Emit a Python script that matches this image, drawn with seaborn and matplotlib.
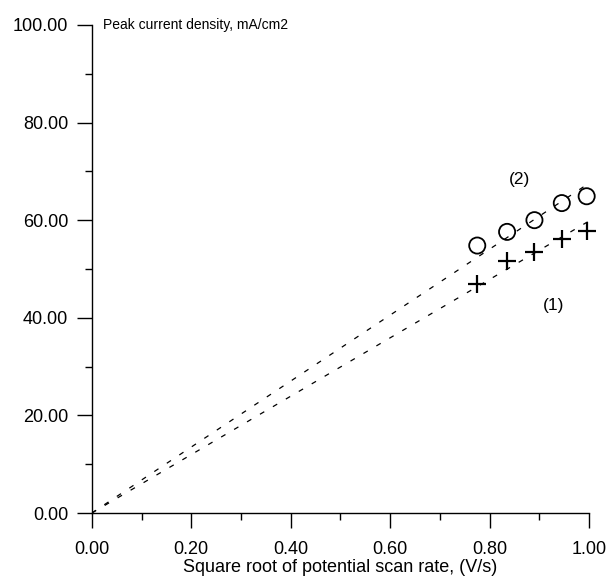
import numpy as np
import pandas as pd
import matplotlib
matplotlib.use("Agg")
import matplotlib.pyplot as plt
import seaborn as sns
from matplotlib.ticker import MultipleLocator, FormatStrFormatter

# Data
sqrt_scan_rate = [0.775, 0.835, 0.89, 0.945, 0.995]
current_1 = [47.0, 51.7, 53.5, 56.1, 57.8]   # series (1), plus markers
current_2 = [54.8, 57.6, 60.0, 63.5, 64.9]   # series (2), open circles
x_ticks = [0.0, 0.2, 0.4, 0.6, 0.8, 1.0]
y_ticks = [0.0, 20.0, 40.0, 60.0, 80.0, 100.0]
y_title = "Peak current density, mA/cm2"
x_title = "Square root of potential scan rate, (V/s)"

sns.set_theme(style="ticks")
plt.rcParams['font.family'] = ['Liberation Sans', 'DejaVu Sans']

fig = plt.figure(figsize=(6.08, 5.8), dpi=100)
ax = fig.add_axes([0.151, 0.1155, 0.818, 0.8415])

df1 = pd.DataFrame({"x": sqrt_scan_rate, "y": current_1})
df2 = pd.DataFrame({"x": sqrt_scan_rate, "y": current_2})

# least-squares lines through the origin
x_arr = np.array(sqrt_scan_rate)
k1 = np.sum(x_arr * np.array(current_1)) / np.sum(x_arr ** 2)
k2 = np.sum(x_arr * np.array(current_2)) / np.sum(x_arr ** 2)
fit_x = np.array([0.0, 1.0])
fit1 = pd.DataFrame({"x": fit_x, "y": k1 * fit_x})
fit2 = pd.DataFrame({"x": fit_x, "y": k2 * fit_x})

for fd in (fit1, fit2):
    sns.lineplot(data=fd, x="x", y="y", ax=ax, color="black", lw=0.9,
                 dashes=False, linestyle=(0, (4, 8)))

sns.scatterplot(data=df1, x="x", y="y", ax=ax, marker="+", s=170,
                color="black", linewidth=1.6, zorder=3, clip_on=False)
sns.scatterplot(data=df2, x="x", y="y", ax=ax, marker="o", s=135,
                facecolor="none", edgecolor="black", linewidth=1.3, zorder=3,
                clip_on=False)

ax.set_xlim(0, 1.0)
ax.set_ylim(0, 100)
ax.set_xticks(x_ticks)
ax.set_yticks(y_ticks)
ax.xaxis.set_major_formatter(FormatStrFormatter("%.2f"))
ax.yaxis.set_major_formatter(FormatStrFormatter("%.2f"))
ax.xaxis.set_minor_locator(MultipleLocator(0.1))
ax.yaxis.set_minor_locator(MultipleLocator(10))
ax.tick_params(which="major", length=11, width=1, labelsize=13, color="black", labelcolor="black")
ax.tick_params(which="minor", length=5, width=1, color="black")
ax.tick_params(axis="x", which="major", pad=9)
ax.tick_params(axis="y", which="major", pad=6)
sns.despine(ax=ax)
for sp in ("left", "bottom"):
    ax.spines[sp].set_color("black")
    ax.spines[sp].set_linewidth(1)

ax.set_xlabel(x_title, fontsize=13, labelpad=1, color="black")
ax.set_ylabel("")
ax.text(0.022, 100, y_title, fontsize=10, va="center", ha="left", color="black")
ax.text(0.859, 68.4, "(2)", fontsize=12.5, va="center", ha="center", color="black")
ax.text(0.928, 42.6, "(1)", fontsize=12.5, va="center", ha="center", color="black")

fig.savefig("out.png", dpi=100)
